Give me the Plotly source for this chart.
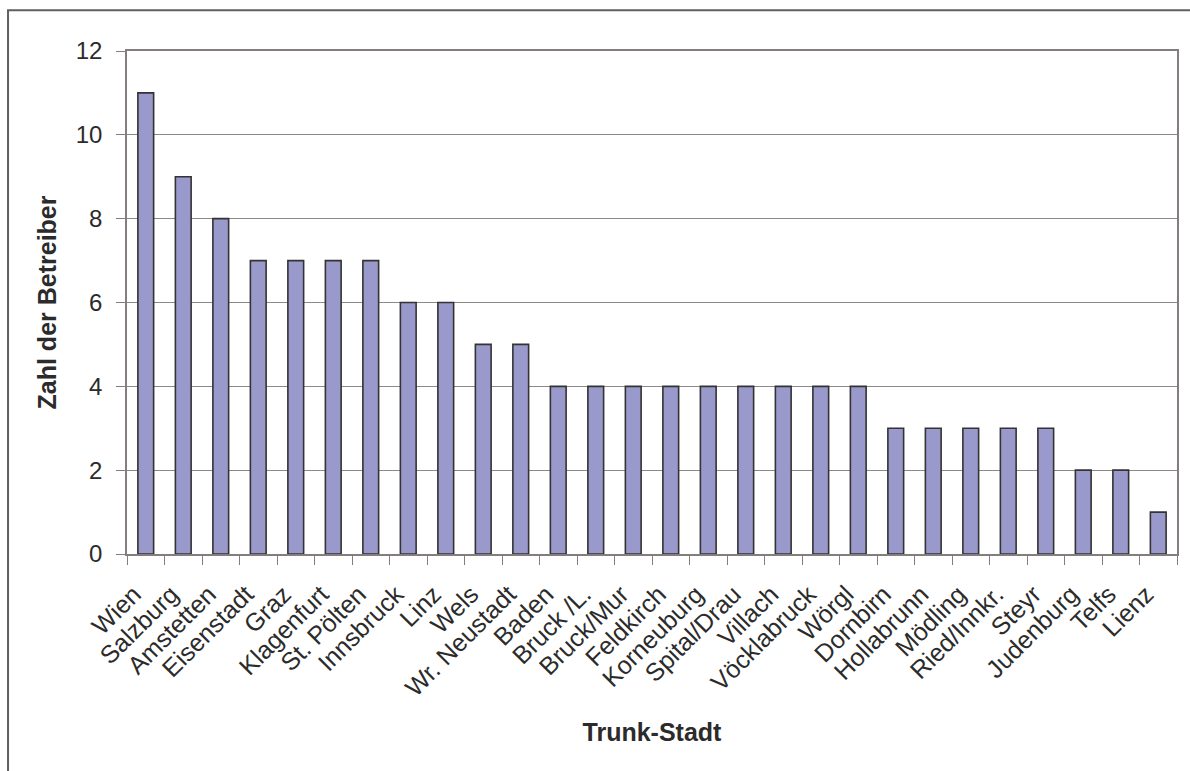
import plotly.graph_objects as go

# Number of operators per trunk city
staedte = [
    "Wien", "Salzburg", "Amstetten", "Eisenstadt", "Graz", "Klagenfurt",
    "St. Pölten", "Innsbruck", "Linz", "Wels", "Wr. Neustadt", "Baden",
    "Bruck /L.", "Bruck/Mur", "Feldkirch", "Korneuburg", "Spital/Drau",
    "Villach", "Vöcklabruck", "Wörgl", "Dornbirn", "Hollabrunn", "Mödling",
    "Ried/Innkr.", "Steyr", "Judenburg", "Telfs", "Lienz",
]
betreiber = [11, 9, 8, 7, 7, 7, 7, 6, 6, 5, 5, 4, 4, 4, 4, 4, 4, 4, 4, 4,
             3, 3, 3, 3, 3, 2, 2, 1]
y_ticks = [0, 2, 4, 6, 8, 10, 12]

FONT = "Arial, Liberation Sans, sans-serif"
TEXT = "#2b2b2b"
AXIS = "#857d7d"

fig = go.Figure(
    go.Bar(
        x=staedte,
        y=betreiber,
        marker=dict(color="#9999cc", line=dict(color="#333333", width=1.6)),
    )
)

fig.update_layout(
    width=1190,
    height=771,
    margin=dict(l=127, r=13, t=51, b=217),
    paper_bgcolor="white",
    plot_bgcolor="white",
    bargap=0.58,
    showlegend=False,
    font=dict(family=FONT, color=TEXT, size=24),
    shapes=[
        # outer chart frame
        dict(
            type="rect", xref="paper", yref="paper",
            x0=-0.1133, x1=1.06, y0=-0.46, y1=1.081,
            line=dict(color="#5f5f5f", width=2), fillcolor="rgba(0,0,0,0)",
            layer="below",
        )
    ],
)

fig.update_xaxes(
    title=dict(text="<b>Trunk-Stadt</b>", font=dict(size=25, color=TEXT), standoff=23),
    tickangle=-45,
    tickson="boundaries",
    ticks="outside",
    ticklen=9,
    tickcolor=AXIS,
    showline=True,
    linecolor=AXIS,
    linewidth=1.5,
    mirror=True,
    showgrid=False,
    ticklabelstandoff=14,
    ticklabelshift=-12,
    tickfont=dict(size=25, color=TEXT),
)

fig.update_yaxes(
    title=dict(text="<b>Zahl der Betreiber</b>", font=dict(size=25, color=TEXT), standoff=12),
    range=[0, 12],
    tickvals=y_ticks,
    ticks="outside",
    ticklen=9,
    tickcolor=AXIS,
    showline=True,
    linecolor=AXIS,
    linewidth=1.5,
    mirror=True,
    showgrid=True,
    gridcolor="#8a8a8a",
    gridwidth=1,
    zeroline=False,
    ticklabelstandoff=9,
    tickfont=dict(size=24, color=TEXT),
)

fig.write_html("out.html")
